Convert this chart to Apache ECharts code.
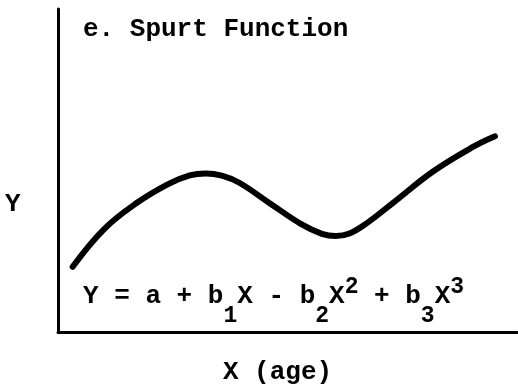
<!DOCTYPE html>
<html><head><meta charset="utf-8">
<script src="https://cdn.jsdelivr.net/npm/echarts@6/dist/echarts.min.js"></script>
<style>html,body{margin:0;padding:0;background:#fff}#c{width:518px;height:390px}</style>
</head><body><div id="c"></div>
<script>
// Data (arbitrary units: X = age 0..10, Y = 0..10)
const ageX = [0.32, 1.00, 1.72, 2.40, 2.87, 3.22, 3.57, 3.95, 4.62, 5.30, 5.75, 6.05, 6.35, 6.70, 7.30, 8.17, 9.04, 9.52];
const valueY = [2.02, 3.18, 4.00, 4.58, 4.85, 4.91, 4.84, 4.62, 3.98, 3.34, 3.04, 2.97, 3.05, 3.34, 4.00, 4.97, 5.73, 6.06];
const titleText = 'e. Spurt Function';
const xAxisName = 'X (age)';
const yAxisName = 'Y';
const equationParts = [['m','Y = a + b'],['sub','1'],['m','X - b'],['sub','2'],['m','X'],['sup','2'],['m',' + b'],['sub','3'],['m','X'],['sup','3']];

const FONT = 'Liberation Mono';
const chart = echarts.init(document.getElementById('c'), null, {renderer: 'canvas'});
const axisCommon = {
  type: 'value', min: 0, max: 10,
  axisLine: {show: true, onZero: false, lineStyle: {color: '#000', width: 3}},
  axisTick: {show: false}, axisLabel: {show: false}, splitLine: {show: false},
  nameTextStyle: {fontFamily: FONT, fontSize: 26, fontWeight: 'bold', color: '#000'}
};
chart.setOption({
  animation: false,
  backgroundColor: '#fff',
  grid: {left: 58, right: 1, top: 9, bottom: 51, containLabel: false},
  xAxis: Object.assign({}, axisCommon, {
    name: xAxisName, nameLocation: 'middle', nameGap: 27,
    nameTextStyle: Object.assign({}, axisCommon.nameTextStyle, {padding: [0, 20, 0, 0]})
  }),
  yAxis: Object.assign({}, axisCommon),
  graphic: [
    {type: 'text', left: 83, top: 16, style: {text: titleText, font: 'bold 26px "Liberation Mono"', fill: '#000'}},
    {type: 'text', left: 5, top: 191, style: {text: yAxisName, font: 'bold 26px "Liberation Mono"', fill: '#000'}},
    {type: 'text', left: 83, top: 264, style: {
      text: equationParts.map(p => '{' + p[0] + '|' + p[1] + '}').join(''),
      fill: '#000',
      rich: {
        m: {fontFamily: FONT, fontSize: 26, fontWeight: 'bold', lineHeight: 64},
        sub: {fontFamily: FONT, fontSize: 23, fontWeight: 'bold', lineHeight: 20, padding: [41, 0, 0, 0]},
        sup: {fontFamily: FONT, fontSize: 23, fontWeight: 'bold', lineHeight: 20, padding: [0, 0, 17, 0]}
      }
    }}
  ],
  series: [{
    type: 'line', smooth: 0.4, showSymbol: false,
    data: ageX.map((x, i) => [x, valueY[i]]),
    lineStyle: {color: '#000', width: 6, cap: 'round', join: 'round'}
  }]
});
</script></body></html>
